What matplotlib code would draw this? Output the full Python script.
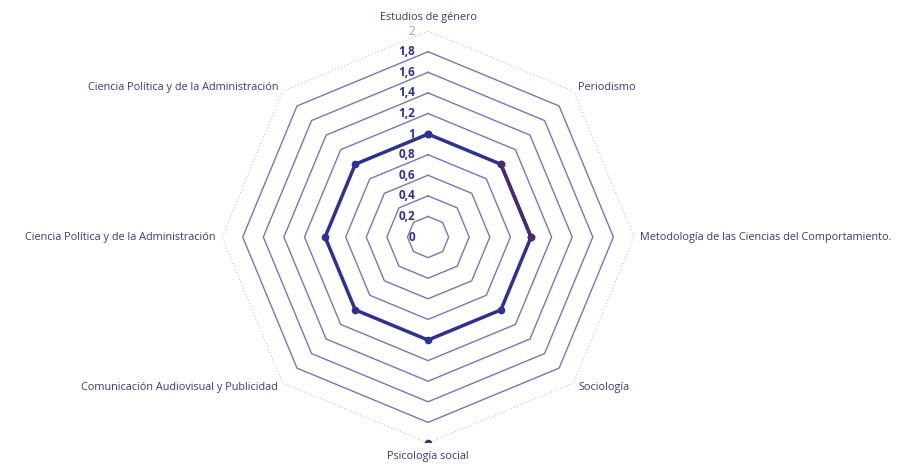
import numpy as np
import matplotlib
matplotlib.use("Agg")
import matplotlib.pyplot as plt
from matplotlib.transforms import offset_copy

categories = [
    "Estudios de género",
    "Periodismo",
    "Metodología de las Ciencias del Comportamiento.",
    "Sociología",
    "Psicología social",
    "Comunicación Audiovisual y Publicidad",
    "Ciencia Política y de la Administración",
    "Ciencia Política y de la Administración",
]
series_main = [1, 1, 1, 1, 1, 1, 1, 1]
series_second = [np.nan, 1, 1, np.nan, 2, np.nan, np.nan, np.nan]
levels = [0.2, 0.4, 0.6, 0.8, 1.0, 1.2, 1.4, 1.6, 1.8, 2.0]
tick_labels = ["0", "0,2", "0,4", "0,6", "0,8", "1", "1,2", "1,4", "1,6", "1,8", "2"]
tick_values = [0, 0.2, 0.4, 0.6, 0.8, 1.0, 1.2, 1.4, 1.6, 1.8, 2.0]

plt.rcParams['font.family'] = ['Open Sans', 'DejaVu Sans']

fig = plt.figure(figsize=(9.13, 4.67), dpi=100)
ax = fig.add_axes([0.2432, 0.0514, 0.4513, 0.882], projection='polar')
ax.set_theta_zero_location('N')
ax.set_theta_direction(-1)
ax.set_ylim(0, 2)
ax.grid(False)
ax.spines['polar'].set_visible(False)
ax.set_xticks([])
ax.set_yticks([])
ax.patch.set_alpha(0)

n = len(categories)
theta = np.linspace(0, 2 * np.pi, n, endpoint=False)
theta_c = np.append(theta, theta[0])

for lv in levels:
    r = np.full(n + 1, lv)
    if lv < 2.0:
        ax.plot(theta_c, r, color='#7676bc', lw=1.0, zorder=1)
    else:
        ax.plot(theta_c, r, color='#c4c4d4', lw=0.8, ls=(0, (1, 2)), zorder=1)

main_c = np.append(series_main, series_main[0])
ax.plot(theta_c, main_c, color='#2e3192', lw=2.5, marker='o', ms=4.5, zorder=3)
sec_c = np.append(series_second, series_second[0])
ax.plot(theta_c, sec_c, color='#4a2c6e', lw=2.5, marker='o', ms=4.5, zorder=4)

# radial tick labels
trans = offset_copy(ax.transData, fig=fig, x=-13, y=0, units='dots')
for v, lab in zip(tick_values, tick_labels):
    if v < 2.0:
        ax.text(0, v, lab, transform=trans, ha='right', va='center',
                fontsize=8.5, fontweight='bold', color='#2e3192', zorder=5)
    else:
        ax.text(0, v, lab, transform=trans, ha='right', va='center',
                fontsize=8.5, color='#a0a0c8', zorder=5)

# category labels
for i, (t, lab) in enumerate(zip(theta, categories)):
    s = np.sin(t)
    c = np.cos(t)
    if abs(s) < 1e-6:
        ha = 'center'
    elif s > 0:
        ha = 'left'
    else:
        ha = 'right'
    if abs(c) < 1e-6:
        va = 'center'
        r = 2.06
    elif c > 0:
        va = 'bottom' if abs(s) < 1e-6 else 'center'
        r = 2.08 if abs(s) < 1e-6 else 2.06
    else:
        va = 'top' if abs(s) < 1e-6 else 'center'
        r = 2.08 if abs(s) < 1e-6 else 2.06
    ax.text(t, r, lab, ha=ha, va=va, fontsize=7.8, color='#3a3a78')

fig.savefig('out.png', dpi=100)
